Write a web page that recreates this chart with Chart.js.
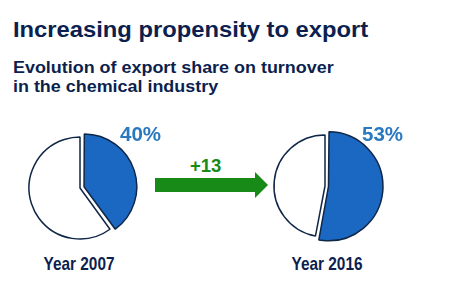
<!DOCTYPE html>
<html>
<head>
<meta charset="utf-8">
<script src="https://cdn.jsdelivr.net/npm/chart.js@4/dist/chart.umd.min.js"></script>
<style>
  body { margin: 0; background: #fff; width: 450px; height: 292px; overflow: hidden; position: relative; font-family: "Liberation Sans", Arial, sans-serif; font-weight: bold; }
  .txt { position: absolute; white-space: nowrap; }
  #title { left: 13px; top: 19px; font-size: 22px; line-height: 22px; color: #0c1f4f; transform: scaleX(1.08); transform-origin: left; }
  #sub { left: 13px; top: 59px; font-size: 16px; line-height: 18.5px; color: #0c1f4f; transform: scaleX(1.12); transform-origin: left; }
  .year { font-size: 17.7px; line-height: 17.7px; color: #0c1f4f; width: 100px; text-align: center; transform: scaleX(0.87); }
  .pct { font-size: 20.5px; line-height: 20.5px; color: #2a78c0; }
  #delta { left: 190px; top: 157px; font-size: 18.5px; line-height: 18.5px; color: #178a17; }
  #arrowBody { position: absolute; left: 155px; top: 178px; width: 101px; height: 14px; background: #178a17; }
  #arrowHead { position: absolute; left: 255px; top: 172px; width: 0; height: 0; border-left: 13px solid #178a17; border-top: 13px solid transparent; border-bottom: 13px solid transparent; }
  canvas { position: absolute; }
</style>
</head>
<body>
<div class="txt" id="title">Increasing propensity to export</div>
<div class="txt" id="sub">Evolution of export share on turnover<br>in the chemical industry</div>
<div class="txt" id="delta"></div>
<div id="arrowBody"></div>
<div id="arrowHead"></div>
<canvas id="pie0" width="130" height="130" style="left:15px; top:123px"></canvas>
<canvas id="pie1" width="130" height="130" style="left:260px; top:121px"></canvas>
<div class="txt pct" id="pct0" style="left:120px; top:124px"></div>
<div class="txt pct" id="pct1" style="left:362px; top:124px"></div>
<div class="txt year" id="year0" style="left:29px; top:256px"></div>
<div class="txt year" id="year1" style="left:277px; top:256px"></div>

<script>
const years = ["Year 2007", "Year 2016"];
const exportShare = [40, 53];   // % of turnover exported
const domesticShare = [60, 47];
const sliceOffset = [17, 14];   // explode the export slice

const blue = "#1a68c2";
const outline = "#0f2647";

years.forEach((year, i) => {
  new Chart(document.getElementById("pie" + i), {
    type: "pie",
    data: {
      labels: ["Export", "Domestic"],
      datasets: [
        {
          data: [exportShare[i], domesticShare[i]],
          backgroundColor: [blue, "#ffffff"],
          borderColor: outline,
          borderWidth: 1.5,
          offset: [sliceOffset[i], 0],
        },
      ],
    },
    options: {
      responsive: false,
      animation: false,
      radius: 51,
      layout: { padding: 0 },
      events: [],
      plugins: {
        legend: { display: false },
        tooltip: { enabled: false },
      },
    },
  });
  document.getElementById("pct" + i).textContent = exportShare[i] + "%";
  document.getElementById("year" + i).textContent = year;
});

document.getElementById("delta").textContent = "+" + (exportShare[1] - exportShare[0]);
</script>
</body>
</html>
